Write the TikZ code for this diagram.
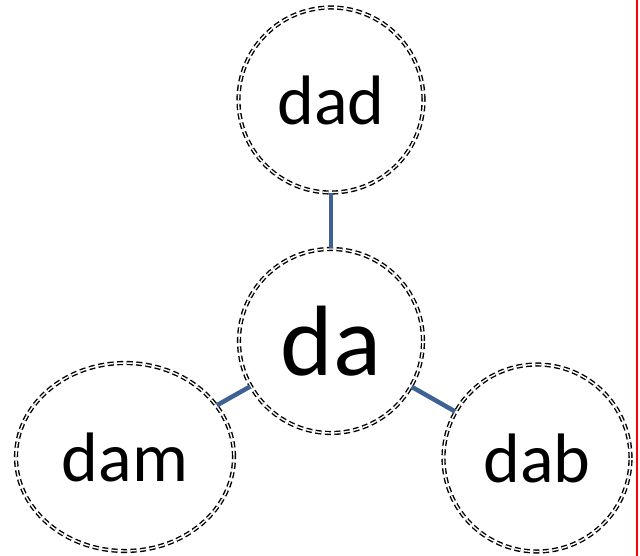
\documentclass[tikz,border=0pt]{standalone}
\usepackage{fontspec}
\setmainfont{Carlito}
\usetikzlibrary{shapes.geometric}
\definecolor{linkblue}{RGB}{62,98,148}

\begin{document}
\begin{tikzpicture}[x=1pt,y=-1pt,
    word/.style={draw,double,dash pattern=on 6pt off 3.5pt,line width=1.4pt,double distance=1.4pt,inner sep=0pt},
    link/.style={linkblue,line width=4.5pt}]

    \useasboundingbox (0,0) rectangle (640,556);

    % da_words
    \node[word,circle,minimum size=185pt,font=\fontsize{70}{72}\selectfont] (dad) at (331,100) {dad};
    \node[word,circle,minimum size=184pt,font=\fontsize{100}{100}\selectfont] (da) at (331,341) {da};
    \node[word,ellipse,minimum width=218pt,minimum height=188pt,font=\fontsize{70}{72}\selectfont] (dam) at (125,457) {dam};
    \node[word,circle,minimum size=187pt,font=\fontsize{70}{72}\selectfont] (dab) at (537,458) {dab};

    \draw[link] (dad) -- (da); % dad - da
    \draw[link] (da) -- (dam); % da - dam
    \draw[link] (da) -- (dab); % da - dab

    \draw[red,line width=2pt] (637,0) -- (637,556); % margin
    
\end{tikzpicture}
\end{document}
